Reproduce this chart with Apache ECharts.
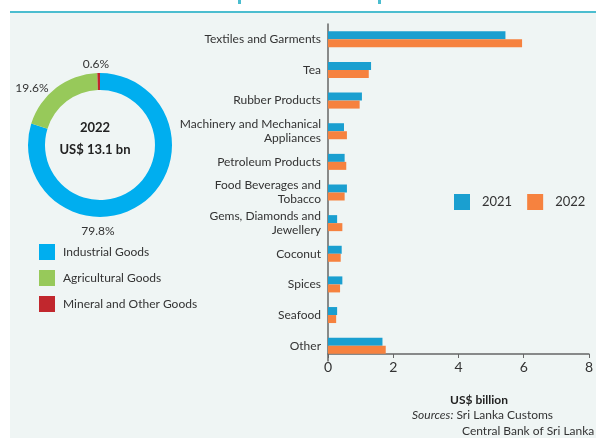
<!DOCTYPE html>
<html>
<head>
<meta charset="utf-8">
<script src="https://cdn.jsdelivr.net/npm/echarts@6/dist/echarts.min.js"></script>
<style>
html,body{margin:0;padding:0;background:#fff;}
#c{width:596px;height:438px;}
</style>
</head>
<body>
<div id="c"></div>
<script>
const categories = ['Textiles and Garments', 'Tea', 'Rubber Products', 'Machinery and Mechanical\nAppliances', 'Petroleum Products', 'Food Beverages and\nTobacco', 'Gems, Diamonds and\nJewellery', 'Coconut', 'Spices', 'Seafood', 'Other'];
const values2021 = [5.44, 1.32, 1.04, 0.49, 0.51, 0.58, 0.28, 0.42, 0.44, 0.28, 1.67];
const values2022 = [5.95, 1.25, 0.97, 0.58, 0.56, 0.51, 0.44, 0.39, 0.37, 0.25, 1.77];
const seriesNames = ['2021', '2022'];
const pieNames = ['Industrial Goods', 'Agricultural Goods', 'Mineral and Other Goods'];
const pieShares = [79.8, 19.6, 0.6];
const pieYear = '2022';
const pieTotal = 'US$ 13.1 bn';
const xAxisName = 'US$ billion';
const xMin = 0, xMax = 8, xStep = 2;

const FONT = 'Lato';
const TXT = '#333333';
const barColors = ['#1A9FD0', '#F6823F'];
const pieColors = ['#00AEEF', '#97C95A', '#C1272D'];

const chart = echarts.init(document.getElementById('c'), null, {renderer: 'canvas'});
const pieLabelPos = [[98, 231], [32, 88], [96, 64]];

chart.setOption({
  animation: false,
  textStyle: {fontFamily: FONT, color: TXT},
  graphic: [
    {type: 'rect', shape: {x: 10, y: 13, width: 586, height: 425}, style: {fill: '#EFF5F4'}, z: -10, silent: true},
    {type: 'rect', shape: {x: 10, y: 11, width: 586, height: 2}, style: {fill: '#4BBDCF'}, z: -9, silent: true},
    {type: 'rect', shape: {x: 238, y: 0, width: 3, height: 4}, style: {fill: '#4BBDCF'}, z: -9, silent: true},
    {type: 'rect', shape: {x: 378, y: 0, width: 3, height: 4}, style: {fill: '#4BBDCF'}, z: -9, silent: true}
  ],
  title: [
    {text: pieYear, left: 95, top: 128, textAlign: 'center', textVerticalAlign: 'middle',
      textStyle: {fontFamily: FONT, fontSize: 13, fontWeight: 'bold', color: '#222'}, padding: 0},
    {text: pieTotal, left: 95, top: 150, textAlign: 'center', textVerticalAlign: 'middle',
      textStyle: {fontFamily: FONT, fontSize: 13, fontWeight: 'bold', color: '#222'}, padding: 0},
    {text: xAxisName, left: 479, top: 400, textAlign: 'center', textVerticalAlign: 'middle',
      textStyle: {fontFamily: FONT, fontSize: 12, fontWeight: 'bold', color: '#222'}, padding: 0},
    {text: '{i|Sources:} Sri Lanka Customs', left: 412, top: 415, textVerticalAlign: 'middle', padding: 0,
      textStyle: {fontFamily: FONT, fontSize: 12, fontWeight: 'normal', color: TXT,
        rich: {i: {fontStyle: 'italic', fontFamily: FONT, fontSize: 12, color: TXT}}}},
    {text: 'Central Bank of Sri Lanka', left: 462, top: 431, textVerticalAlign: 'middle', padding: 0,
      textStyle: {fontFamily: FONT, fontSize: 12, fontWeight: 'normal', color: TXT}}
  ],
  legend: [
    {data: pieNames, orient: 'vertical', left: 39, top: 244, padding: 0, itemGap: 10,
      itemWidth: 16, itemHeight: 16, icon: 'rect',
      textStyle: {fontFamily: FONT, fontSize: 12, color: TXT, padding: [0, 0, 0, 3]}},
    {data: seriesNames, orient: 'horizontal', left: 454, top: 194, padding: 0, itemGap: 15,
      itemWidth: 16, itemHeight: 16, icon: 'rect',
      textStyle: {fontFamily: FONT, fontSize: 13, color: TXT, padding: [0, 0, 0, 7]}}
  ],
  grid: {left: 328, right: 2, top: 24, bottom: 77, containLabel: false},
  xAxis: {
    type: 'value', min: xMin, max: xMax, interval: xStep, offset: -7,
    splitLine: {show: false},
    axisLine: {show: true, lineStyle: {color: '#666', width: 1.5}},
    axisTick: {show: true, length: 4, lineStyle: {color: '#666'}},
    axisLabel: {fontFamily: FONT, fontSize: 14, color: TXT, margin: 6}
  },
  yAxis: {
    type: 'category', data: categories, inverse: true,
    axisLine: {show: true, lineStyle: {color: '#666', width: 1.5}},
    axisTick: {show: false},
    axisLabel: {fontFamily: FONT, fontSize: 12, color: TXT, margin: 7, lineHeight: 14}
  },
  series: [
    {name: seriesNames[0], type: 'bar', data: values2021, barWidth: 8, barGap: '0%',
      itemStyle: {color: barColors[0]}},
    {name: seriesNames[1], type: 'bar', data: values2022, barWidth: 8, barGap: '0%',
      itemStyle: {color: barColors[1]}},
    {name: 'share', type: 'pie', center: [100, 145], radius: [55, 72], startAngle: 90, clockwise: true,
      avoidLabelOverlap: false,
      data: pieNames.map((n, i) => ({name: n, value: pieShares[i], itemStyle: {color: pieColors[i]}})),
      label: {show: true, position: 'inside', formatter: p => p.value.toFixed(1) + '%',
        fontFamily: FONT, fontSize: 12, color: TXT, textBorderWidth: 0},
      labelLine: {show: false},
      labelLayout: p => ({x: pieLabelPos[p.dataIndex][0], y: pieLabelPos[p.dataIndex][1], align: 'center', verticalAlign: 'middle'}),
      emphasis: {disabled: true}
    }
  ]
});
</script>
</body>
</html>
